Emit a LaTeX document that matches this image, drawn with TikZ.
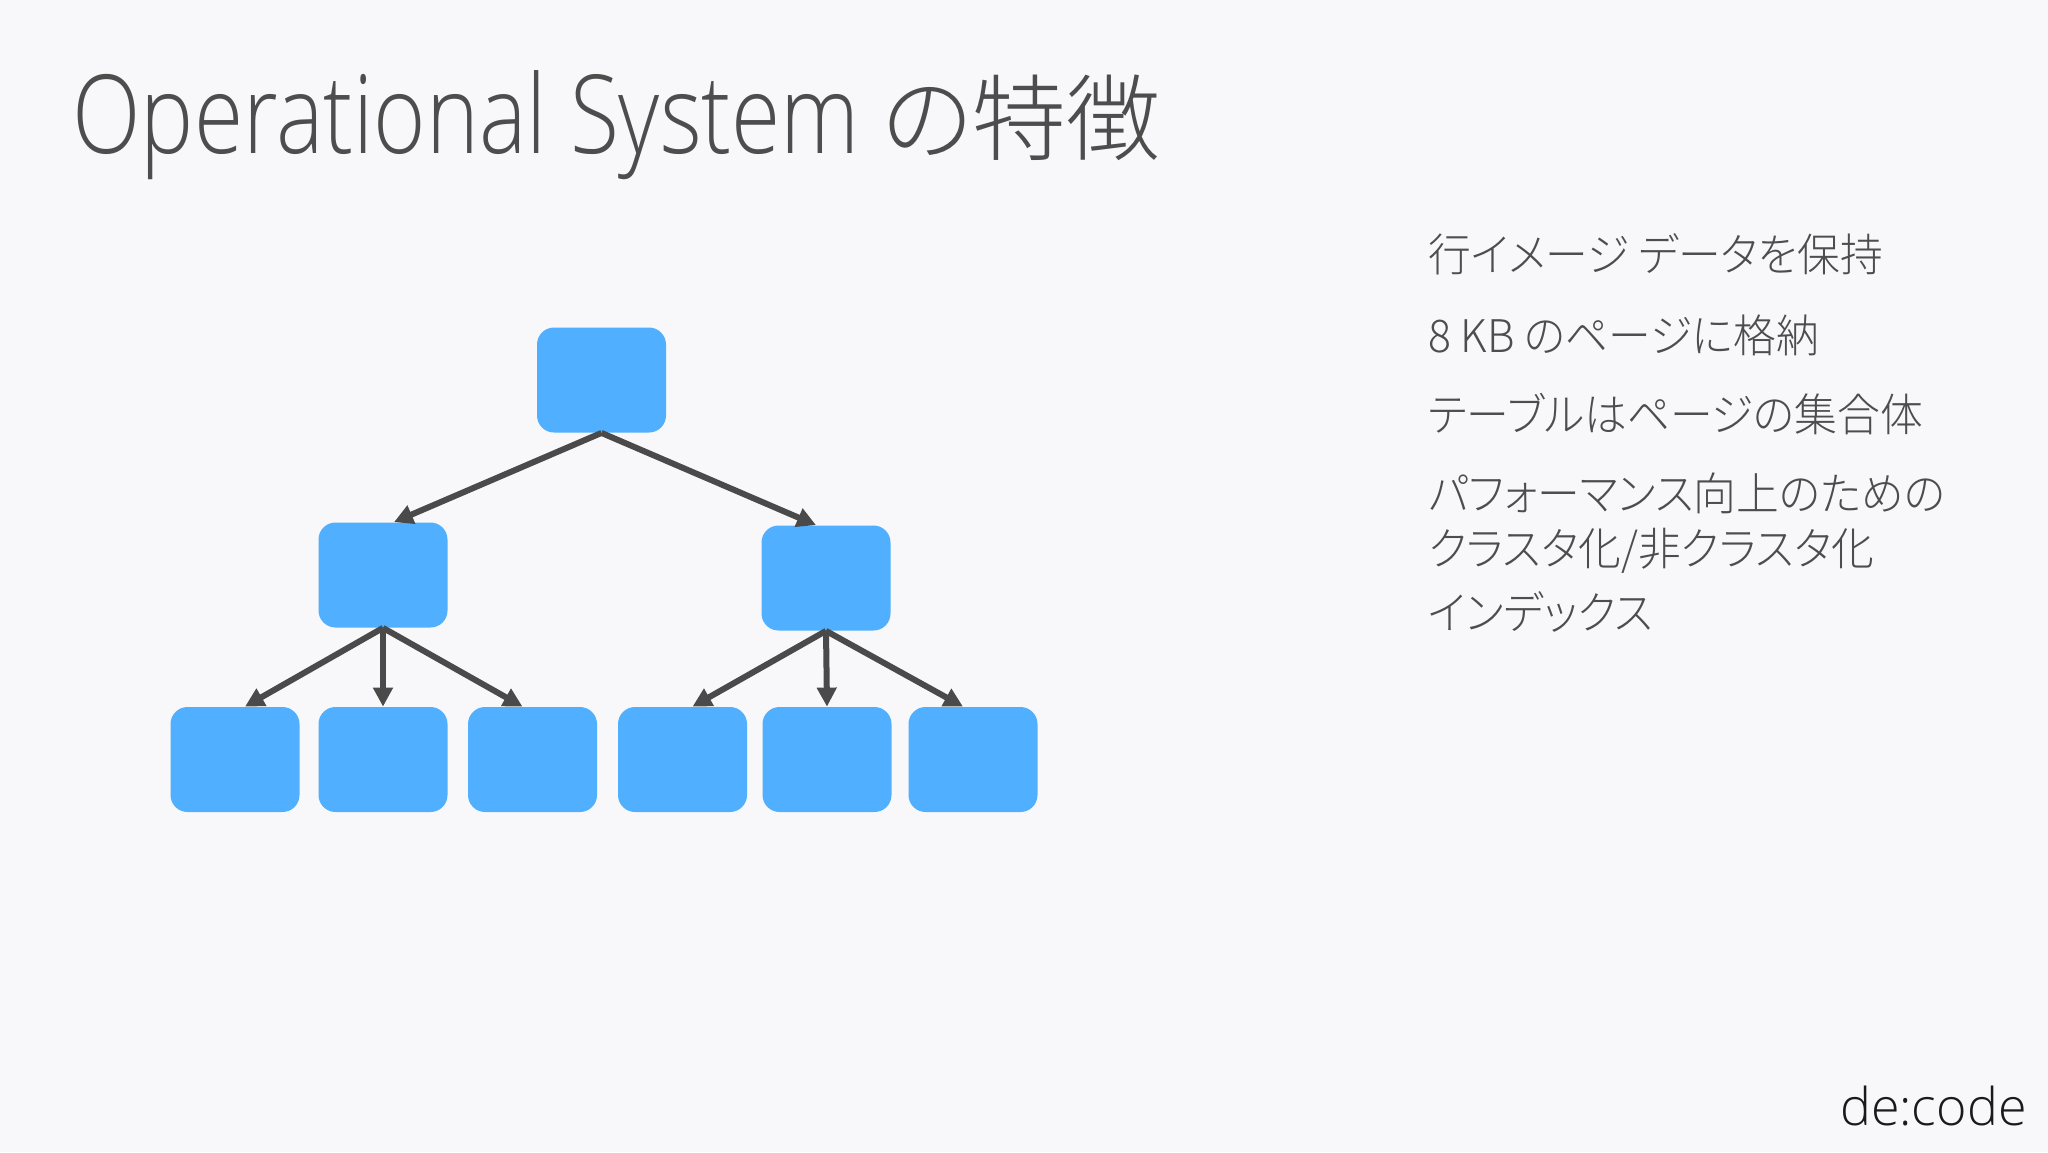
\documentclass[tikz,border=0pt]{standalone}
\usepackage{fontspec}
\usetikzlibrary{arrows.meta}
\IfFontExistsTF{Noto Sans CJK JP Light}{%
  \newfontfamily\jpfont[RawFeature=+palt]{Noto Sans CJK JP Light}%
  \newfontfamily\jpbody[RawFeature=+palt,FakeStretch=0.95]{Noto Sans CJK JP Light}}{%
  \newfontfamily\jpfont[RawFeature=+palt]{Noto Sans CJK JP}%
  \newfontfamily\jpbody[RawFeature=+palt,FakeStretch=0.95]{Noto Sans CJK JP}}
\IfFontExistsTF{Open Sans Light}{%
  \newfontfamily\latfont{Open Sans Light}%
  \newfontfamily\lattitle[FakeStretch=0.82]{Open Sans Light}}{%
  \newfontfamily\latfont{Open Sans}%
  \newfontfamily\lattitle[FakeStretch=0.82]{Open Sans}}
\definecolor{bg}{RGB}{248,248,250}
\definecolor{boxblue}{RGB}{80,176,255}
\definecolor{arr}{RGB}{74,74,74}
\definecolor{txt}{RGB}{77,77,77}
\definecolor{logo}{RGB}{26,26,26}
\tikzset{
  pagebox/.style={fill=boxblue, rounded corners=8.5pt, minimum width=64.5pt, minimum height=52.5pt, inner sep=0pt},
  link/.style={draw=arr, line width=3pt, -{Triangle[length=9.5pt,width=9.5pt]}},
  bullet/.style={anchor=base west, inner sep=0pt, text=txt, font=\jpbody\fontsize{22.5pt}{27pt}\selectfont},
}
\begin{document}
\begin{tikzpicture}[x=0.5pt,y=-0.5pt]
\fill[bg] (0,0) rectangle (2048,1152);
\useasboundingbox (0,0) rectangle (2048,1152);
% title
\node[anchor=base west, inner sep=0pt, text=txt] (title) at (72,153)
  {\lattitle\fontsize{54.6pt}{60pt}\selectfont Operational System\hspace{0.2em}{\jpfont\fontsize{47pt}{60pt}\selectfont の特徴}};
% tree
\node[pagebox] (root) at (601.5,380) {};
\node[pagebox] (ml) at (383,575) {};
\node[pagebox] (mr) at (826,578) {};
\node[pagebox] (b1) at (235,759.5) {};
\node[pagebox] (b2) at (383,759.5) {};
\node[pagebox] (b3) at (532.5,759.5) {};
\node[pagebox] (b4) at (682.5,759.5) {};
\node[pagebox] (b5) at (827,759.5) {};
\node[pagebox] (b6) at (973,759.5) {};
\draw[link] (root.south) -- ([xshift=5.5pt]ml.north);
\draw[link] (root.south) -- ([xshift=-5pt]mr.north);
\draw[link] (ml.south) -- ([xshift=5pt]b1.north);
\draw[link] (ml.south) -- (b2.north);
\draw[link] (ml.south) -- ([xshift=-5pt]b3.north);
\draw[link] (mr.south) -- ([xshift=5pt]b4.north);
\draw[link] (mr.south) -- (b5.north);
\draw[link] (mr.south) -- ([xshift=-5pt]b6.north);
% bullets
\node[bullet] (l1) at (1428,271) {行イメージ データを保持};
\node[bullet] (l2) at (1428,352) {8 KB のページに格納};
\node[bullet] (l3) at (1428,431) {テーブルはページの集合体};
\node[bullet] (l4) at (1428,510) {パフォーマンス向上のための};
\node[bullet] (l5) at (1428,565) {クラスタ化/非クラスタ化};
\node[bullet] (l6) at (1428,629) {インデックス};
% logo
\node[anchor=base east, inner sep=0pt, text=logo] (logo) at (2027,1125)
  {\latfont\fontsize{26pt}{30pt}\selectfont de:code};
\end{tikzpicture}
\end{document}
